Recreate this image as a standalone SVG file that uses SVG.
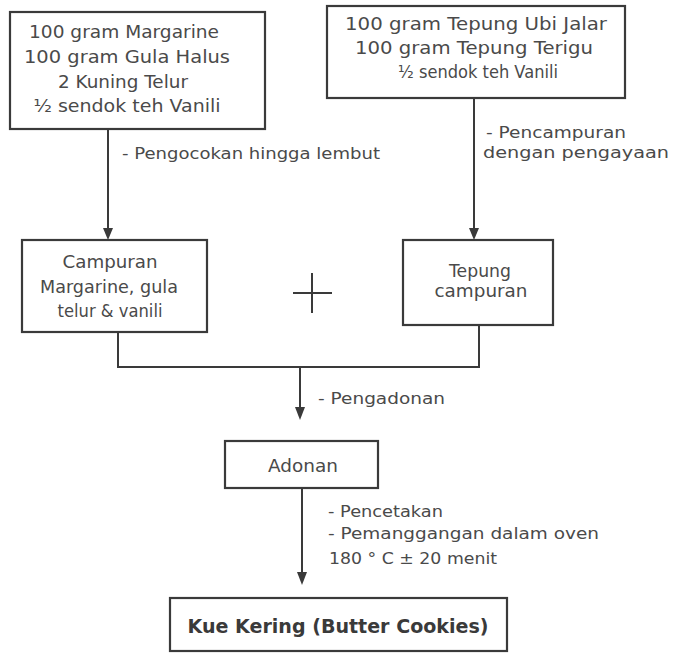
<svg xmlns="http://www.w3.org/2000/svg" width="673" height="653" viewBox="0 0 673 653">
<style>
.box{fill:#ffffff;stroke:#3a3a3a;stroke-width:2.2}
.t{font-family:"DejaVu Sans","Liberation Sans",sans-serif;font-size:17px;fill:#4a4a4a;text-anchor:middle}
.l{font-family:"DejaVu Sans","Liberation Sans",sans-serif;font-size:15px;fill:#4a4a4a}
.b{font-family:"DejaVu Sans","Liberation Sans",sans-serif;font-size:19px;font-weight:bold;fill:#3a3a3a;text-anchor:middle}
.c{fill:none;stroke:#3a3a3a;stroke-width:2}
</style>
<rect width="673" height="653" fill="#ffffff"/>
<g id="connectors">
<line class="c" x1="108" y1="129" x2="108" y2="228"/>
<path d="M103,228 L113,228 L108,240 Z" fill="#3a3a3a"/>
<line class="c" x1="474" y1="99" x2="474" y2="228"/>
<path d="M469,228 L479,228 L474,240 Z" fill="#3a3a3a"/>
<polyline class="c" points="118,333 118,367 479,367 479,326"/>
<line class="c" x1="300" y1="367" x2="300" y2="408"/>
<path d="M295,407 L305,407 L300,420 Z" fill="#3a3a3a"/>
<line class="c" x1="302" y1="489" x2="302" y2="573"/>
<path d="M297,572 L307,572 L302,585 Z" fill="#3a3a3a"/>
<text class="l" x="122" y="159" textLength="258" lengthAdjust="spacingAndGlyphs">- Pengocokan hingga lembut</text>
<text class="l" x="486" y="138" textLength="140" lengthAdjust="spacingAndGlyphs">- Pencampuran</text>
<text class="l" x="483" y="158" textLength="186" lengthAdjust="spacingAndGlyphs">dengan pengayaan</text>
<text class="l" x="318" y="404" textLength="127" lengthAdjust="spacingAndGlyphs">- Pengadonan</text>
<text class="l" x="328" y="517" textLength="115" lengthAdjust="spacingAndGlyphs">- Pencetakan</text>
<text class="l" x="328" y="539" textLength="271" lengthAdjust="spacingAndGlyphs">- Pemanggangan dalam oven</text>
<text class="l" x="329" y="564" textLength="168" lengthAdjust="spacingAndGlyphs">180 ° C ± 20 menit</text>
</g>
<g id="plus">
<line class="c" x1="293" y1="293" x2="332" y2="293"/>
<line class="c" x1="312" y1="273" x2="312" y2="313"/>
</g>
<g id="bahan1">
<rect class="box" x="10" y="12" width="255" height="117"/>
<text class="t" x="124" y="38" textLength="190" lengthAdjust="spacingAndGlyphs">100 gram Margarine</text>
<text class="t" x="127" y="63" textLength="206" lengthAdjust="spacingAndGlyphs">100 gram Gula Halus</text>
<text class="t" x="123" y="88" textLength="130" lengthAdjust="spacingAndGlyphs">2 Kuning Telur</text>
<text class="t" x="127" y="112" textLength="187" lengthAdjust="spacingAndGlyphs">½ sendok teh Vanili</text>
</g>
<g id="bahan2">
<rect class="box" x="327" y="6" width="298" height="92"/>
<text class="t" x="476" y="30" textLength="262" lengthAdjust="spacingAndGlyphs">100 gram Tepung Ubi Jalar</text>
<text class="t" x="474" y="54" textLength="238" lengthAdjust="spacingAndGlyphs">100 gram Tepung Terigu</text>
<text class="t" x="478" y="78" textLength="160" lengthAdjust="spacingAndGlyphs">½ sendok teh Vanili</text>
</g>
<g id="campuran">
<rect class="box" x="22" y="240" width="185" height="92"/>
<text class="t" x="110" y="268" textLength="95" lengthAdjust="spacingAndGlyphs">Campuran</text>
<text class="t" x="109" y="293" textLength="138" lengthAdjust="spacingAndGlyphs">Margarine, gula</text>
<text class="t" x="110" y="317" textLength="105" lengthAdjust="spacingAndGlyphs">telur &amp; vanili</text>
</g>
<g id="tepung">
<rect class="box" x="403" y="240" width="150" height="85"/>
<text class="t" x="480" y="277" textLength="62" lengthAdjust="spacingAndGlyphs">Tepung</text>
<text class="t" x="481" y="297" textLength="93" lengthAdjust="spacingAndGlyphs">campuran</text>
</g>
<g id="adonan">
<rect class="box" x="225" y="441" width="153" height="47"/>
<text class="t" x="303" y="472" textLength="70" lengthAdjust="spacingAndGlyphs">Adonan</text>
</g>
<g id="kue">
<rect class="box" x="170" y="598" width="337" height="53"/>
<text class="b" x="338" y="633" textLength="301" lengthAdjust="spacingAndGlyphs">Kue Kering (Butter Cookies)</text>
</g>
</svg>
